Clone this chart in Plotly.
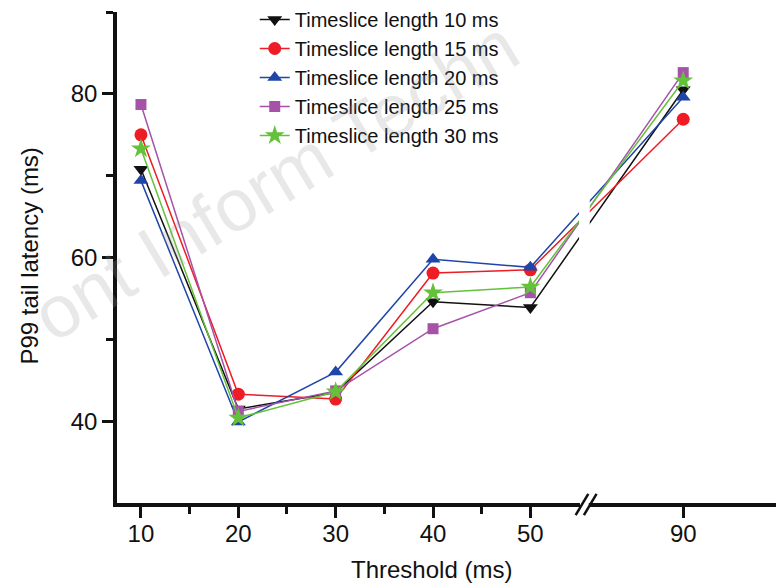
import plotly.graph_objects as go

# ---- data ----
thresholds = [10, 20, 30, 40, 50, 90]
tick_labels = ["10", "20", "30", "40", "50", "90"]
series_names = [
    "Timeslice length 10 ms",
    "Timeslice length 15 ms",
    "Timeslice length 20 ms",
    "Timeslice length 25 ms",
    "Timeslice length 30 ms",
]
ts10 = [70.8, 41.5, 43.5, 54.6, 53.9, 80.5]
ts15 = [75.0, 43.3, 42.7, 58.1, 58.5, 76.9]
ts20 = [69.4, 39.9, 46.0, 59.8, 58.8, 79.6]
ts25 = [78.7, 41.2, 43.7, 51.3, 55.7, 82.6]
ts30 = [73.3, 40.4, 43.6, 55.7, 56.4, 81.6]
values = [ts10, ts15, ts20, ts25, ts30]

colors = ["#111111", "#ee1c25", "#1f45a8", "#a552a8", "#63c23a"]
symbols = ["triangle-down", "circle", "triangle-up", "square", "star"]
sizes = [13, 13, 13, 11, 15]

# broken axis: values above 50 are compressed
BREAK_AT = 50
BREAK_SCALE = 0.3925


def brk(v):
    return v if v <= BREAK_AT else BREAK_AT + (v - BREAK_AT) * BREAK_SCALE


xpos = [brk(v) for v in thresholds]

FONT = "Liberation Sans, Arial, Helvetica, sans-serif"
INK = "#111111"

fig = go.Figure()
for name, vals, c, s, sz in zip(series_names, values, colors, symbols, sizes):
    fig.add_trace(go.Scatter(
        x=xpos, y=vals, name=name, mode="lines+markers",
        line=dict(color=c, width=1.5),
        marker=dict(symbol=s, size=sz, color=c, line=dict(width=0)),
    ))

# gap in the data lines at the axis break
fig.add_shape(type="rect", xref="x", yref="y", x0=55.0, x1=56.1, y0=30.6, y1=90,
              fillcolor="white", line=dict(width=0), layer="above")
# axis break marks //
fig.add_shape(type="rect", xref="x", yref="paper", x0=55.1, x1=56.0, y0=-0.012, y1=0.012,
              fillcolor="white", line=dict(width=0), layer="above")
for dx in (0.0, 0.85):
    fig.add_shape(type="line", xref="x", yref="paper",
                  x0=54.65 + dx, y0=-0.024, x1=55.95 + dx, y1=0.018,
                  line=dict(color=INK, width=2.5), layer="above")

# faint watermark
fig.add_annotation(text="ont Inform Techn", xref="paper", yref="paper",
                   x=0.240, y=0.642, xanchor="center", yanchor="middle",
                   textangle=-31, showarrow=False,
                   font=dict(family=FONT, size=74, color="rgba(150,150,150,0.22)"))

# axis titles
fig.add_annotation(text="Threshold (ms)", xref="paper", yref="paper",
                   x=0.477, y=-0.133, xanchor="center", yanchor="middle",
                   showarrow=False, font=dict(family=FONT, size=24, color=INK))
fig.add_annotation(text="P99 tail latency (ms)", xref="paper", yref="paper",
                   x=-0.132, y=0.49, xanchor="center", yanchor="middle",
                   textangle=-90, showarrow=False,
                   font=dict(family=FONT, size=24, color=INK))

fig.update_layout(
    width=776, height=585,
    margin=dict(l=117, r=0, t=0, b=82),
    paper_bgcolor="white", plot_bgcolor="white",
    font=dict(family=FONT, color=INK),
    showlegend=True,
    legend=dict(x=0.209, y=1.0, xanchor="left", yanchor="top",
                font=dict(family=FONT, size=20, color=INK),
                bgcolor="rgba(0,0,0,0)", borderwidth=0),
    xaxis=dict(
        range=[7.54, 75.23], showgrid=False, zeroline=False, automargin=False,
        showline=True, linecolor=INK, linewidth=3.5,
        ticks="outside", ticklen=11, tickwidth=3, tickcolor=INK,
        tickvals=xpos, ticktext=tick_labels, ticklabelstandoff=-5,
        tickfont=dict(family=FONT, size=24, color=INK),
        minor=dict(tickvals=[15, 25, 35, 45], ticks="outside", ticklen=7,
                   tickwidth=3, tickcolor=INK),
    ),
    yaxis=dict(
        domain=[0, 0.976],
        range=[30, 90], showgrid=False, zeroline=False, automargin=False,
        showline=True, linecolor=INK, linewidth=3.5,
        ticks="outside", ticklen=11, tickwidth=3, tickcolor=INK,
        tickvals=[40, 60, 80],
        tickfont=dict(family=FONT, size=24, color=INK),
        minor=dict(tickvals=[50, 70, 90], ticks="outside", ticklen=7,
                   tickwidth=3, tickcolor=INK),
    ),
)

fig.write_html("out.html", config={"displayModeBar": False},
               post_script="document.body.style.margin='0';")
